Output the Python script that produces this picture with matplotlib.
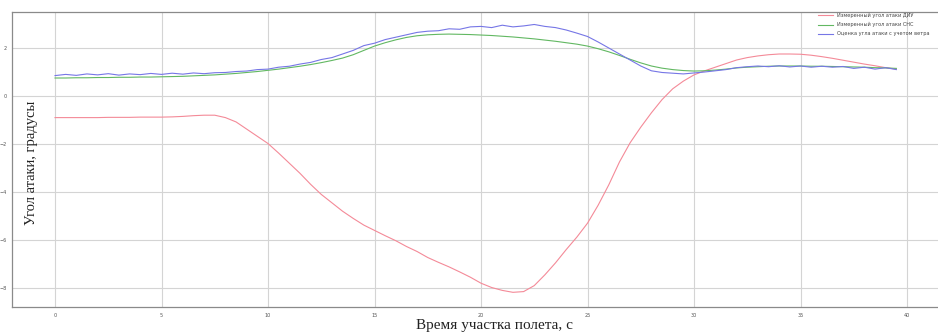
import numpy as np
import matplotlib
matplotlib.use("Agg")
import matplotlib.pyplot as plt

# time, s (0.5 s step)
t = np.arange(0, 40, 0.5)

# Измеренный угол атаки ДИУ (red)
red_vals = [
    -0.90, -0.90, -0.90, -0.90, -0.90, -0.89, -0.89, -0.89, -0.88, -0.88,
    -0.88, -0.87, -0.85, -0.82, -0.80, -0.80, -0.90, -1.08, -1.38, -1.68,
    -1.98, -2.38, -2.80, -3.22, -3.68, -4.10, -4.45, -4.80, -5.10, -5.38,
    -5.60, -5.82, -6.03, -6.27, -6.48, -6.73, -6.93, -7.12, -7.33, -7.55,
    -7.80, -7.98, -8.10, -8.18, -8.15, -7.90, -7.45, -6.95, -6.40, -5.88,
    -5.30, -4.55, -3.70, -2.75, -1.95, -1.30, -0.70, -0.15, 0.30, 0.62,
    0.88, 1.05, 1.20, 1.35, 1.50, 1.60, 1.67, 1.72, 1.75, 1.75,
    1.74, 1.70, 1.64, 1.57, 1.49, 1.41, 1.33, 1.26, 1.18, 1.12,
]

# Измеренный угол атаки СНС (green)
green_vals = [
    0.75, 0.75, 0.76, 0.76, 0.77, 0.77, 0.78, 0.78, 0.79, 0.79,
    0.80, 0.81, 0.82, 0.84, 0.86, 0.88, 0.91, 0.94, 0.98, 1.02,
    1.07, 1.12, 1.18, 1.24, 1.31, 1.39, 1.48, 1.58, 1.72, 1.90,
    2.08, 2.22, 2.34, 2.44, 2.51, 2.55, 2.57, 2.58, 2.57, 2.56,
    2.54, 2.52, 2.49, 2.46, 2.42, 2.38, 2.33, 2.28, 2.22, 2.16,
    2.08, 1.97, 1.84, 1.69, 1.53, 1.38, 1.25, 1.16, 1.10, 1.06,
    1.04, 1.05, 1.08, 1.12, 1.17, 1.20, 1.22, 1.24, 1.25, 1.25,
    1.25, 1.24, 1.24, 1.23, 1.22, 1.21, 1.20, 1.18, 1.17, 1.15,
]

# Оценка угла атаки с учетом ветра (blue)
blue_vals = [
    0.85, 0.90, 0.86, 0.92, 0.88, 0.93, 0.87, 0.92, 0.89, 0.94,
    0.90, 0.95, 0.91, 0.96, 0.93, 0.97, 0.98, 1.02, 1.04, 1.10,
    1.12, 1.20, 1.24, 1.33, 1.40, 1.52, 1.60, 1.75, 1.90, 2.10,
    2.20, 2.35, 2.45, 2.55, 2.65, 2.70, 2.72, 2.80, 2.78, 2.88,
    2.90, 2.85, 2.95, 2.88, 2.92, 2.98, 2.90, 2.85, 2.75, 2.62,
    2.48, 2.25, 2.00, 1.75, 1.50, 1.25, 1.05, 0.98, 0.95, 0.92,
    0.96, 1.00, 1.05, 1.10, 1.18, 1.22, 1.25, 1.22, 1.26, 1.21,
    1.25, 1.20, 1.24, 1.20, 1.23, 1.15, 1.20, 1.12, 1.18, 1.10,
]

labels = [
    "Измеренный угол атаки ДИУ",
    "Измеренный угол атаки СНС",
    "Оценка угла атаки с учетом ветра",
]
xticks = [0, 5, 10, 15, 20, 25, 30, 35, 40]
yticks = [2, 0, -2, -4, -6, -8]

W, H = 938, 335
fig = plt.figure(figsize=(W / 100, H / 100), dpi=100)
l, r, top, bot = 12, 945, 12, 307
ax = fig.add_axes([l / W, 1 - bot / H, (r - l) / W, (bot - top) / H])

ax.plot(t, red_vals, color="#f48a98", lw=0.8, label=labels[0])
ax.plot(t, green_vals, color="#62b862", lw=0.8, label=labels[1])
ax.plot(t, blue_vals, color="#7676e6", lw=0.8, label=labels[2])

# axis scale: 0 at x=55px, 21.3 px per s; 0 at y=96px, 24 px per unit
x0, sx = 55, 21.3
ax.set_xlim((l - x0) / sx, (r - x0) / sx)
y0, sy = 96, 24
ax.set_ylim((y0 - bot) / sy, (y0 - top) / sy)

ax.set_xticks(xticks)
ax.set_yticks(yticks)
ax.tick_params(labelsize=3.5, colors="#555555", length=0, pad=4)
ax.grid(True, color="#d4d4d4", lw=0.8)
for s in ax.spines.values():
    s.set_color("#8a8a8a")
    s.set_linewidth(0.9)

serif = ["Liberation Serif", "DejaVu Serif"]
fig.text(31 / W, 1 - 163 / H, "Угол атаки, градусы", rotation=90,
         ha="center", va="center", fontsize=10.5, family=serif, color="#222222")
fig.text(494 / W, 1 - 326 / H, "Время участка полета, с",
         ha="center", va="center", fontsize=11, family=serif, color="#222222")

leg = ax.legend(loc="upper left", bbox_to_anchor=(816 / W, 1 - 11 / H),
                bbox_transform=fig.transFigure, frameon=False, fontsize=3.6,
                handlelength=3.0, handletextpad=0.8, labelspacing=0.8,
                borderaxespad=0)
for txt in leg.get_texts():
    txt.set_color("#444444")

fig.savefig("out.png", dpi=100)
